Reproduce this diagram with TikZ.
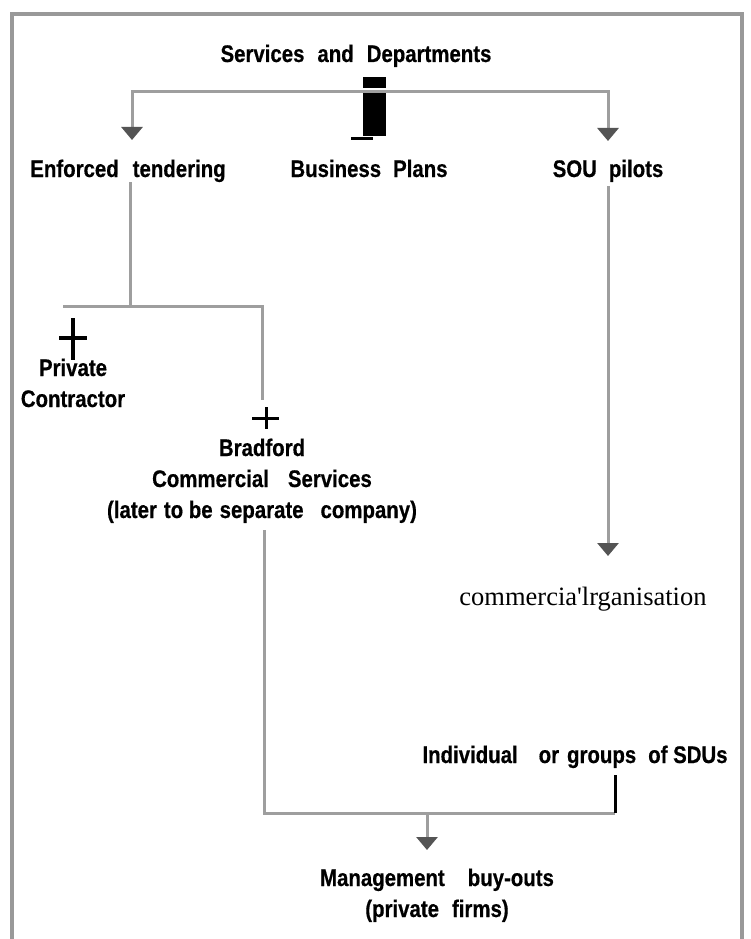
\documentclass[tikz,border=0pt]{standalone}
\usepackage{fontspec}
\setmainfont{Liberation Sans}[FakeStretch=0.85,FakeBold=0.5]
\newfontfamily\serifx{Liberation Serif}
\usetikzlibrary{arrows.meta}
\newcommand\gp[1]{\hspace{#1pt}}
\definecolor{linegray}{gray}{0.62}
\definecolor{framegray}{gray}{0.6}
\definecolor{tipgray}{gray}{0.33}
\tikzset{
  lbl/.style={inner sep=0pt, align=center, anchor=base, font=\fontsize{24}{31}\selectfont\bfseries},
  conn/.style={draw=linegray, line width=3pt},
  arr/.style={conn, -{Triangle[width=21pt,length=13pt,color=tipgray]}},
  frame/.style={draw=framegray, line width=3.5pt},
  blk/.style={draw=black, line width=3pt},
  blkthick/.style={draw=black, line width=4pt}
}
\begin{document}
\begin{tikzpicture}[x=1pt,y=-1pt]
\useasboundingbox (0,0) rectangle (750,939);
\fill[white] (0,0) rectangle (750,939);
% frame
\draw[frame] (12,939) -- (12,14) -- (742,14) -- (742,939);

% nodes
\node[lbl] (sd) at (356,62) {Services\gp{13}and\gp{13}Departments};
\node[lbl] (et) at (128,177) {Enforced\gp{14}tendering};
\node[lbl] (bp) at (369,177) {Business\gp{12}Plans};
\node[lbl] (sou) at (608,177) {SOU\gp{12}pilots};
\node[lbl] (pc) at (73,407) {Private\\Contractor};
\node[lbl] (bcs) at (262,518) {Bradford\\Commercial\gp{19}Services\\(later\gp{7}to be\gp{7}separate\gp{17}company)};
\node[inner sep=0pt, anchor=base, font=\serifx\fontsize{26.5}{30}\selectfont] (co) at (583,605) {commercia'lrganisation};
\node[lbl] (ib) at (575,763) {Individual\gp{21}or\gp{8}groups\gp{12}of SDUs};
\node[lbl] (mb) at (437,917) {Management\gp{23}buy-outs\\(private\gp{13}firms)};

% coordinates
\coordinate (hub) at (375,92);
\coordinate (etin) at (132,140);
\coordinate (souin) at (608,141);
\coordinate (spl) at (130,306);
\coordinate (pcend) at (63,306);
\coordinate (bcsend) at (262,400);
\coordinate (sout) at (608,186);
\coordinate (coin) at (608,556);
\coordinate (bcsb) at (264,530);
\coordinate (sdubot) at (615,813);
\coordinate (mbtop) at (427,813);
\coordinate (mbin) at (427,850);

% connectors
\draw[arr] (hub) -| (etin);
\draw[arr] (hub) -| (souin);
\draw[conn] (et.south -| spl) -- (spl);
\draw[conn] (pcend) -- (spl) -| (bcsend);
\draw[arr] (sout) -- (coin);
\draw[conn] (bcsb) |- (sdubot);
\draw[arr] (mbtop) -- (mbin);
\draw[blk] (sdubot) -- (615,775);

% black "i" mark
\fill[black] (363,77) rectangle (386,88);
\fill[black] (363,93) rectangle (386,136);
\fill[black] (351,136.5) rectangle (373,139.5);

% plus marks
\draw[blkthick] (59,338) -- (87,338);
\draw[blkthick] (73,318) -- (73,360);
\draw[blk] (252,418) -- (279,418);
\draw[blk] (266,407) -- (266,429);
\end{tikzpicture}
\end{document}
